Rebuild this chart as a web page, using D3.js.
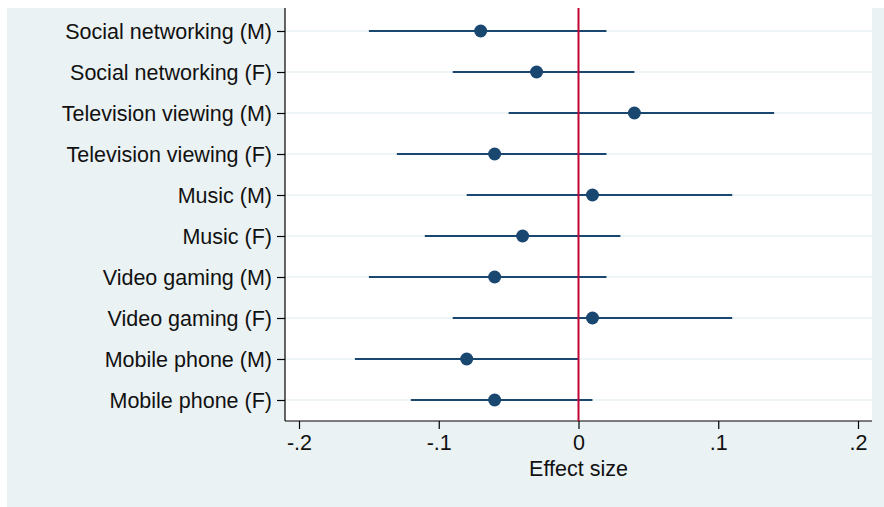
<!DOCTYPE html>
<html><head><meta charset="utf-8">
<script src="https://cdn.jsdelivr.net/npm/d3@7"></script>
<style>body{margin:0;background:#fff}svg{display:block}</style>
</head><body>
<script>
const categories = ["Social networking (M)","Social networking (F)","Television viewing (M)","Television viewing (F)","Music (M)","Music (F)","Video gaming (M)","Video gaming (F)","Mobile phone (M)","Mobile phone (F)"];
const estimates = [-0.07,-0.03,0.04,-0.06,0.01,-0.04,-0.06,0.01,-0.08,-0.06];
const lower = [-0.15,-0.09,-0.05,-0.13,-0.08,-0.11,-0.15,-0.09,-0.16,-0.12];
const upper = [0.02,0.04,0.14,0.02,0.11,0.03,0.02,0.11,0.00,0.01];
const xTicks = [-0.2,-0.1,0,0.1,0.2];
const xTickLabels = ["-.2","-.1","0",".1",".2"];

const W=884,H=507;
const svg=d3.select("body").append("svg").attr("width",W).attr("height",H);
svg.append("rect").attr("x",7).attr("y",8).attr("width",W-7).attr("height",H-8).attr("fill","#eaf2f3");
const L=285,R=872,T=8,B=421;
svg.append("rect").attr("x",L).attr("y",T).attr("width",R-L).attr("height",B-T).attr("fill","#fff");

const x=d3.scaleLinear().domain([-0.2,0.2]).range([299,858]);
const y=d3.scalePoint().domain(categories).range([31,400]);
const font="'Liberation Sans', Arial, Helvetica, sans-serif";
const fs=21.5;

// grid
svg.append("g").selectAll("line").data(categories).join("line")
 .attr("x1",L).attr("x2",R).attr("y1",d=>y(d)).attr("y2",d=>y(d))
 .attr("stroke","#eaf2f3").attr("stroke-width",1.5);

// y axis
const ya=svg.append("g").attr("transform",`translate(${L},0)`)
 .call(d3.axisLeft(y).tickSize(8).tickPadding(5));
ya.select(".domain").attr("d",`M0,${T}V${B}`).attr("stroke","#000").attr("stroke-width",1.2);
ya.selectAll(".tick line").attr("stroke","#000").attr("stroke-width",1.2);
ya.selectAll("text").attr("font-family",font).attr("font-size",fs).attr("fill","#111").attr("dy","0.36em");

// x axis
const xa=svg.append("g").attr("transform",`translate(0,${B})`)
 .call(d3.axisBottom(x).tickValues(xTicks).tickFormat((d,i)=>xTickLabels[i]).tickSize(8).tickPadding(6));
xa.select(".domain").attr("d",`M${L},0H${R}`).attr("stroke","#000").attr("stroke-width",1.2);
xa.selectAll(".tick line").attr("stroke","#000").attr("stroke-width",1.2);
xa.selectAll("text").attr("font-family",font).attr("font-size",fs).attr("fill","#111");

svg.append("text").attr("x",x(0)).attr("y",476).attr("text-anchor","middle")
 .attr("font-family",font).attr("font-size",fs).attr("fill","#111").text("Effect size");

// CIs
const idx=d3.range(categories.length);
svg.append("g").selectAll("line").data(idx).join("line")
 .attr("x1",i=>x(lower[i])).attr("x2",i=>x(upper[i]))
 .attr("y1",i=>y(categories[i])).attr("y2",i=>y(categories[i]))
 .attr("stroke","#1a476f").attr("stroke-width",2);

// zero line
svg.append("line").attr("x1",x(0)).attr("x2",x(0)).attr("y1",T).attr("y2",B)
 .attr("stroke","#c10534").attr("stroke-width",2);

// points
svg.append("g").selectAll("circle").data(idx).join("circle")
 .attr("cx",i=>x(estimates[i])).attr("cy",i=>y(categories[i])).attr("r",6.5)
 .attr("fill","#1a476f");
</script>
</body></html>
